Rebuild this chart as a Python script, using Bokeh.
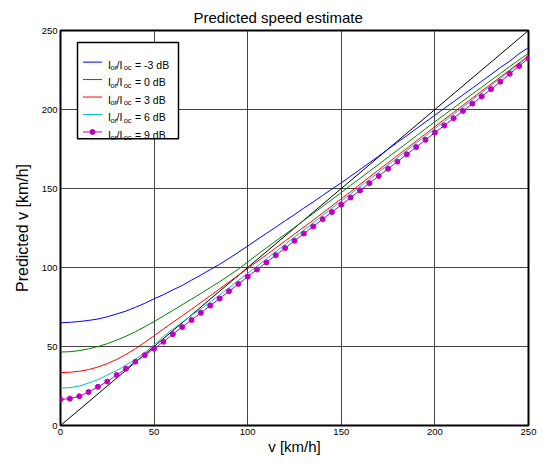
from bokeh.plotting import figure
from bokeh.models import Range1d, FixedTicker, Title, LinearAxis
from bokeh.core.properties import value
from bokeh.embed import file_html
from bokeh.resources import INLINE

# ---------------- data ----------------
v_true = list(range(0, 255, 5))

pred_m3 = [65.0, 65.3, 65.8, 66.5, 67.4, 68.8, 70.6, 72.4, 74.8, 77.3,
           80.2, 82.8, 85.8, 88.6, 92.0, 95.2, 98.7, 102.0, 105.8, 109.6,
           113.6, 117.6, 121.6, 125.5, 129.6, 133.5, 137.6, 141.5, 145.6, 149.7,
           153.6, 157.8, 162.0, 166.3, 170.5, 174.9, 179.2, 183.4, 187.8, 192.1,
           196.4, 200.7, 204.9, 209.3, 213.5, 217.9, 222.2, 226.6, 230.6, 235.3,
           239.2]
pred_0 = [46.5, 46.7, 47.4, 48.5, 50.0, 51.8, 54.0, 56.5, 59.3, 62.5,
          65.8, 69.3, 72.8, 76.4, 80.0, 83.6, 87.3, 91.0, 94.9, 99.0,
          103.5, 108.0, 112.4, 116.8, 121.0, 125.3, 129.8, 134.2, 138.6, 143.0,
          147.5, 152.0, 156.4, 160.9, 165.3, 169.8, 174.3, 178.7, 183.3, 187.8,
          192.3, 196.6, 201.0, 205.4, 209.8, 214.1, 218.5, 222.8, 227.2, 231.5,
          235.6]
pred_3 = [33.5, 33.7, 34.3, 35.4, 37.0, 39.2, 41.8, 45.0, 48.6, 52.6,
          56.8, 61.1, 65.3, 69.4, 73.6, 77.8, 82.1, 86.5, 90.8, 95.1,
          99.4, 103.7, 108.0, 112.4, 116.8, 121.2, 125.6, 130.0, 134.5, 139.0,
          143.5, 148.0, 152.6, 157.2, 161.8, 166.3, 170.9, 175.4, 180.0, 184.6,
          189.2, 193.7, 198.2, 202.7, 207.2, 211.7, 216.1, 220.6, 225.0, 229.5,
          234.0]
pred_6 = [23.8, 23.9, 25.0, 26.8, 29.0, 32.0, 34.8, 38.2, 41.8, 46.2,
          51.0, 56.3, 61.0, 65.4, 69.8, 73.8, 78.2, 82.6, 87.2, 91.8,
          96.3, 100.8, 105.4, 110.0, 114.6, 119.2, 123.7, 128.3, 132.9, 137.5,
          142.0, 146.6, 151.2, 155.7, 160.3, 164.9, 169.5, 174.1, 178.7, 183.3,
          187.9, 192.4, 197.0, 201.5, 206.1, 210.6, 215.2, 219.8, 224.3, 228.9,
          233.4]
pred_9 = [16.5, 17.0, 18.5, 21.2, 24.5, 27.8, 32.0, 35.9, 40.4, 44.5,
          48.6, 53.0, 57.8, 62.3, 66.8, 71.3, 75.9, 80.4, 85.0, 89.6,
          94.2, 98.7, 103.2, 107.8, 112.3, 116.9, 121.5, 126.0, 130.6, 135.1,
          139.7, 144.3, 148.8, 153.4, 157.9, 162.5, 167.0, 171.6, 176.2, 180.8,
          185.4, 189.9, 194.5, 199.1, 203.7, 208.3, 212.9, 217.6, 222.6, 227.5,
          232.4]

ideal_x = [0, 250]
ideal_y = [0, 250]

ticks = [0, 50, 100, 150, 200, 250]
legend_values = ["-3", "0", "3", "6", "9"]
series = [pred_m3, pred_0, pred_3, pred_6, pred_9]
colors = ["#0000FF", "#008000", "#FF0000", "#00BFBF", "#BF00BF"]

FONT = "Liberation Sans"

# ---------------- layout ----------------
W, H = 537, 457
BL, BR, BT, BB = 60, 9, 30, 31
FX0, FX1 = BL, W - BR          # frame left/right in canvas px
FY1, FY0 = BT, H - BB          # frame top/bottom in canvas px

p = figure(width=W, height=H, output_backend="svg", toolbar_location=None,
           x_range=Range1d(0, 250), y_range=Range1d(0, 250),
           min_border_left=BL, min_border_right=BR, min_border_top=BT,
           min_border_bottom=BB)
p.background_fill_color = "white"
p.border_fill_color = "white"
p.outline_line_color = "black"
p.outline_line_width = 2

t = Title(text="Predicted speed estimate", align="left", offset=133,
          text_font=FONT, text_font_size="15px", text_font_style="normal",
          text_color="black", standoff=10)
p.add_layout(t, "above")

for ax in (p.xaxis[0], p.yaxis[0]):
    ax.ticker = FixedTicker(ticks=ticks)
    ax.major_tick_line_color = None
    ax.minor_tick_line_color = None
    ax.axis_line_color = None
    ax.major_tick_out = 0
    ax.major_tick_in = 0
    ax.major_label_text_font = FONT
    ax.major_label_text_font_size = "9.5px"
    ax.major_label_text_color = "black"
    ax.axis_label_text_font = FONT
    ax.axis_label_text_font_style = "normal"
    ax.axis_label_text_color = "black"
p.xaxis.axis_label = "v [km/h]"
p.xaxis.axis_label_text_font_size = "15px"
p.xaxis.major_label_standoff = 3
p.xaxis.axis_label_standoff = 0
p.yaxis.major_label_standoff = 3

# y-axis title on its own (tick-less) axis so that it can sit a bit lower,
# as in the reference
ylab = LinearAxis(axis_label="Predicted v [km/h]", bounds=(0, 227),
                  ticker=FixedTicker(ticks=[]), axis_line_color=None,
                  major_tick_line_color=None, minor_tick_line_color=None,
                  major_tick_out=0, major_tick_in=0,
                  axis_label_text_font=FONT, axis_label_text_font_size="16px",
                  axis_label_text_font_style="normal",
                  axis_label_text_color="black", axis_label_standoff=8)
p.add_layout(ylab, "left")

p.grid.grid_line_color = "#303030"
p.grid.grid_line_width = 1
p.grid.grid_line_alpha = 0.9
p.xgrid.ticker = FixedTicker(ticks=ticks)
p.ygrid.ticker = FixedTicker(ticks=ticks)

# data curves
p.line(ideal_x, ideal_y, line_color="black", line_width=1)
for ys, c in zip(series, colors):
    p.line(v_true, ys, line_color=c, line_width=1)
p.scatter(v_true, pred_9, marker="circle", size=5, fill_color=colors[4],
          line_color=colors[4])


# ---------------- custom legend (subscripts) ----------------
def dx(px):
    return (px - FX0) / (FX1 - FX0) * 250.0


def dy(py):
    return (FY0 - py) / (FY0 - FY1) * 250.0


p.quad(left=[dx(77)], right=[dx(178)], top=[dy(42)], bottom=[dy(138.5)],
       fill_color="white", line_color="black", line_width=1.5)

row_px = [61.7, 79.2, 96.7, 114.2, 131.7]
for i, (lv, c) in enumerate(zip(legend_values, colors)):
    yc = row_px[i]
    p.line([dx(82.5), dx(101.5)], [dy(yc), dy(yc)], line_color=c, line_width=1)
    if i == 4:
        p.scatter([dx(92)], [dy(yc)], marker="circle", size=5,
                  fill_color=c, line_color=c)
    big_y = dy(yc + 2.8)
    sub_y = dy(yc + 5.8)
    p.text(x=[dx(107.5), dx(116.0), dx(134.5)], y=[big_y] * 3,
           text=["I", "/I", "= " + lv + " dB"], text_font=value(FONT),
           text_font_size="10.5px", text_baseline="alphabetic",
           text_align="left", text_color="black")
    p.text(x=[dx(110.0), dx(123.2)], y=[sub_y] * 2, text=["or", "oc"],
           text_font=value(FONT), text_font_size="7.5px",
           text_baseline="alphabetic", text_align="left", text_color="black")

open("out.html", "w").write(file_html(p, INLINE))
